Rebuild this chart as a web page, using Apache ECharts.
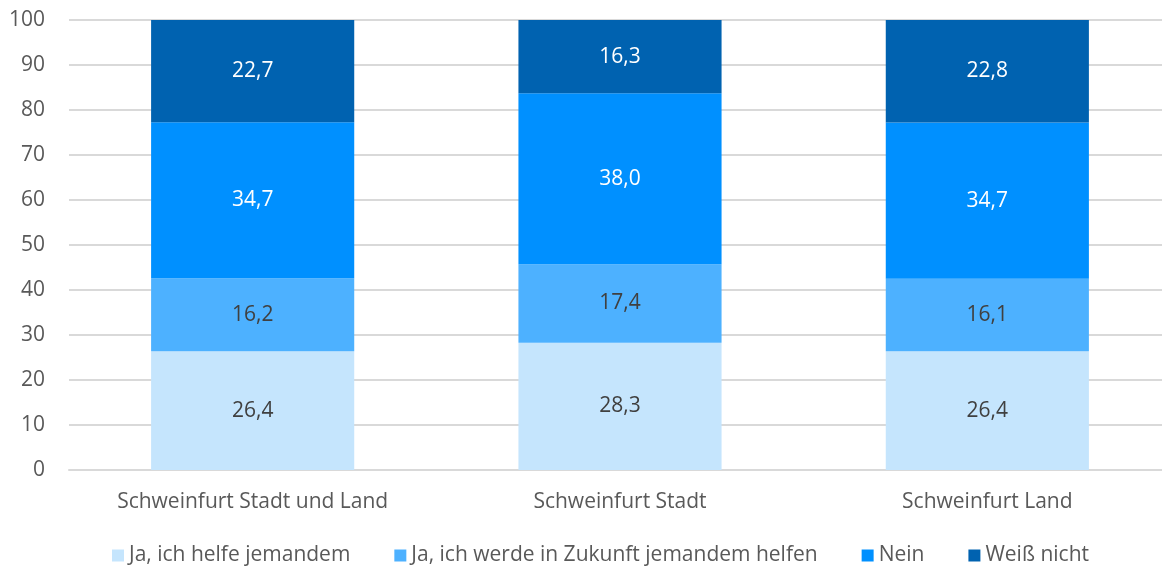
<!DOCTYPE html>
<html><head><meta charset="utf-8">
<script src="https://cdn.jsdelivr.net/npm/echarts@6/dist/echarts.min.js"></script>
<style>html,body{margin:0;padding:0;background:#fff;overflow:hidden}#c{width:1171px;height:568px}</style>
</head><body><div id="c"></div>
<script>
const categories = ['Schweinfurt Stadt und Land', 'Schweinfurt Stadt', 'Schweinfurt Land'];
const seriesNames = ['Ja, ich helfe jemandem', 'Ja, ich werde in Zukunft jemandem helfen', 'Nein', 'Weiß nicht'];
const jaHelfe = [26.4, 28.3, 26.4];
const jaZukunft = [16.2, 17.4, 16.1];
const nein = [34.7, 38.0, 34.7];
const weissNicht = [22.7, 16.3, 22.8];
const colors = ['#C5E5FD', '#4DB1FF', '#0090FF', '#0062B0'];
const labelColors = ['#404040', '#404040', '#ffffff', '#ffffff'];
const FONT = 'Open Sans';

const values = [jaHelfe, jaZukunft, nein, weissNicht];
const chart = echarts.init(document.getElementById('c'));
chart.setOption({
  animation: false,
  textStyle: {fontFamily: FONT},
  grid: {left: 69, top: 20, right: 0, height: 450, containLabel: false},
  legend: {
    top: 540, left: 107,
    itemWidth: 12, itemHeight: 12, itemGap: 44,
    icon: 'rect',
    textStyle: {fontFamily: FONT, fontSize: 21, color: '#595959'},
    data: seriesNames
  },
  xAxis: {
    type: 'category', data: categories,
    axisLine: {lineStyle: {color: '#d9d9d9', width: 2}},
    axisTick: {show: false},
    axisLabel: {fontFamily: FONT, fontSize: 21, color: '#595959', margin: 22}
  },
  yAxis: {
    type: 'value', min: 0, max: 100, interval: 10,
    axisLine: {show: false}, axisTick: {show: false},
    splitLine: {lineStyle: {color: '#d9d9d9', width: 2}},
    axisLabel: {fontFamily: FONT, fontSize: 21, color: '#595959', margin: 24}
  },
  series: values.map((v, i) => ({
    name: seriesNames[i], type: 'bar', stack: 'total',
    barWidth: '55.3%',
    data: v,
    itemStyle: {color: colors[i]},
    label: {
      show: true, position: 'inside',
      fontFamily: FONT, fontSize: 21, color: labelColors[i],
      formatter: p => p.value.toFixed(1).replace('.', ',')
    }
  }))
});
</script></body></html>
